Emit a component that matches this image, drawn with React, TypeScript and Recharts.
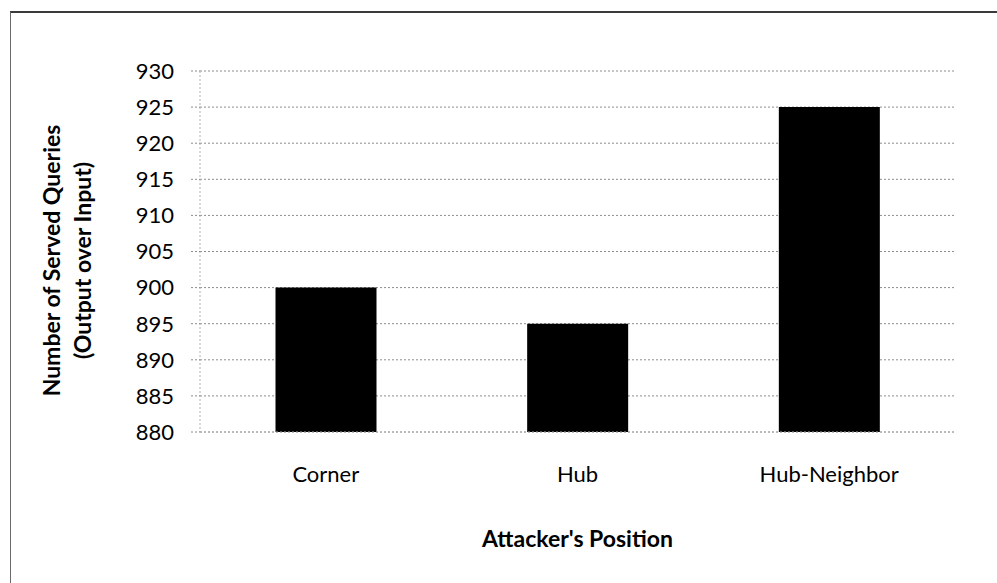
import React from 'react';
import { BarChart, Bar, XAxis, YAxis, CartesianGrid } from 'recharts';

// Attacker positions and the number of served queries at each one
const positions = ['Corner', 'Hub', 'Hub-Neighbor'];
const servedQueries = [900, 895, 925];
const yTicks = [880, 885, 890, 895, 900, 905, 910, 915, 920, 925, 930];

const data = positions.map((position, i) => ({ position, served: servedQueries[i] }));

const FONT = 'Lato, "Open Sans", sans-serif';
const GRID = '#8c8c8c';

const YTitle = (props: any) => {
  const vb = props.viewBox || {};
  const cy = vb.y + vb.height / 2 + 9;
  return (
    <g fontFamily={FONT} fontWeight={700} fontSize={23} fill="#000">
      <text x={60} y={cy} textAnchor="middle" transform={`rotate(-90, 60, ${cy})`}>
        Number of Served Queries
      </text>
      <text x={91} y={cy} textAnchor="middle" transform={`rotate(-90, 91, ${cy})`}>
        (Output over Input)
      </text>
    </g>
  );
};

const XTitle = (props: any) => {
  const vb = props.viewBox || {};
  const cx = vb.x + vb.width / 2;
  return (
    <text x={cx} y={547} textAnchor="middle" fontFamily={FONT} fontWeight={700} fontSize={23} fill="#000">
      Attacker's Position
    </text>
  );
};

export default function App() {
  return (
    <div style={{ position: 'absolute', left: 0, top: 0, width: 997, height: 583, background: '#fff' }}>
      <div
        style={{
          position: 'absolute',
          left: 10,
          top: 11,
          width: 987,
          height: 572,
          borderTop: '2px solid #3a3a3a',
          borderLeft: '1px solid #6a6a6a',
          boxSizing: 'border-box',
        }}
      />
      <BarChart
        width={997}
        height={583}
        data={data}
        margin={{ top: 71, right: 42, bottom: 91, left: 0 }}
        barCategoryGap="30%"
        style={{ position: 'absolute', left: 0, top: 0 }}
      >
        <CartesianGrid vertical={false} stroke={GRID} strokeDasharray="2 2" />
        <XAxis
          dataKey="position"
          height={60}
          axisLine={{ stroke: '#b0b0b0', strokeDasharray: '2 2' }}
          tickLine={false}
          tickSize={0}
          tickMargin={34}
          tick={{ fontFamily: FONT, fontSize: 22, fill: '#000' }}
          label={<XTitle />}
        />
        <YAxis
          width={200}
          domain={[880, 930]}
          ticks={yTicks}
          interval={0}
          allowDataOverflow
          axisLine={{ stroke: '#b0b0b0', strokeDasharray: '2 2' }}
          tickLine={{ stroke: GRID, strokeDasharray: '2 2' }}
          tickSize={9}
          tickMargin={17}
          tick={{ fontFamily: FONT, fontSize: 22, fill: '#000' }}
          label={<YTitle />}
        />
        <Bar dataKey="served" fill="#000" isAnimationActive={false} />
      </BarChart>
    </div>
  );
}
